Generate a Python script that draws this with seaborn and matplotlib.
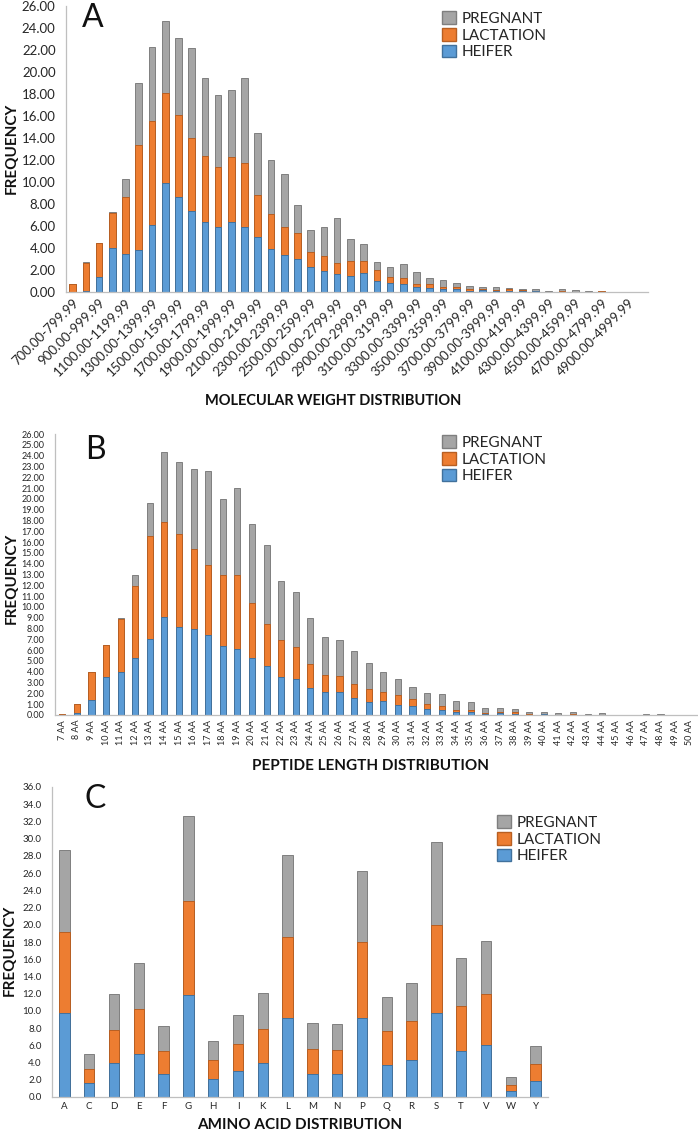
import numpy as np
import pandas as pd
import matplotlib
matplotlib.use("Agg")
import matplotlib.pyplot as plt
import seaborn as sns
from matplotlib.patches import Patch
from matplotlib.ticker import FormatStrFormatter, FixedLocator

# ---- data ----
# A: molecular weight bins
mw_bins = [f"{s}.00-{s + 99}.99" for s in range(700, 5100, 100)]
mw_heifer = [0.0, 0.1, 1.4, 4.0, 3.45, 3.8, 6.1, 9.95, 8.65, 7.35, 6.35, 5.95, 6.4, 5.9, 5.0,
             3.9, 3.4, 3.0, 2.3, 1.95, 1.6, 1.5, 1.75, 1.0, 0.85, 0.7, 0.42, 0.4, 0.3, 0.27,
             0.12, 0.15, 0.1, 0.08, 0.05, 0.05, 0.0, 0.03, 0.0, 0.0, 0.0, 0.0, 0.0, 0.0]
mw_lactation = [0.7, 2.57, 3.1, 3.2, 5.15, 9.55, 9.45, 8.15, 7.45, 6.65, 6.0, 5.4, 5.9, 5.8, 3.85,
                3.15, 2.5, 2.35, 1.35, 1.3, 1.0, 1.3, 1.1, 1.0, 0.55, 0.57, 0.34, 0.3, 0.12, 0.15,
                0.15, 0.15, 0.1, 0.2, 0.1, 0.05, 0.03, 0.03, 0.03, 0.0, 0.06, 0.04, 0.0, 0.0]
mw_pregnant = [0.0, 0.05, 0.0, 0.05, 1.65, 5.65, 6.7, 6.5, 7.0, 8.15, 7.15, 6.6, 6.1, 7.8, 5.65,
               4.95, 4.8, 2.6, 1.95, 2.7, 4.1, 2.05, 1.5, 0.75, 0.9, 1.25, 1.06, 0.6, 0.67, 0.43,
               0.3, 0.12, 0.22, 0.08, 0.1, 0.14, 0.06, 0.21, 0.12, 0.09, 0.0, 0.0, 0.0, 0.0]

# B: peptide length
pl_bins = [f"{n} AA" for n in range(7, 51)]
pl_heifer = [0.0, 0.2, 1.4, 3.5, 3.95, 5.25, 7.05, 9.1, 8.1, 8.0, 7.4, 6.4, 6.1, 5.25, 4.55,
             3.55, 3.3, 2.5, 2.1, 2.1, 1.55, 1.2, 1.3, 0.95, 0.8, 0.55, 0.45, 0.28, 0.3, 0.12,
             0.15, 0.12, 0.03, 0.05, 0.0, 0.03, 0.0, 0.0, 0.0, 0.0, 0.0, 0.0, 0.0, 0.0]
pl_lactation = [0.1, 0.82, 2.6, 3.0, 4.95, 6.65, 9.55, 8.75, 8.65, 7.35, 6.5, 6.6, 6.85, 5.1, 3.85,
                3.4, 2.95, 2.2, 1.6, 1.55, 1.35, 1.2, 0.8, 0.9, 0.7, 0.45, 0.4, 0.21, 0.2, 0.1,
                0.13, 0.13, 0.05, 0.03, 0.02, 0.05, 0.0, 0.02, 0.0, 0.03, 0.02, 0.0, 0.0, 0.0]
pl_pregnant = [0.0, 0.03, 0.0, 0.0, 0.1, 1.05, 3.05, 6.5, 6.7, 7.45, 8.7, 7.0, 8.05, 7.35, 7.3,
               5.45, 5.1, 4.3, 3.5, 3.3, 3.0, 2.45, 1.9, 1.5, 1.1, 1.0, 1.05, 0.78, 0.7, 0.4,
               0.37, 0.31, 0.23, 0.2, 0.2, 0.2, 0.12, 0.17, 0.0, 0.0, 0.07, 0.06, 0.0, 0.03]

# C: amino acids
aa_bins = ["A", "C", "D", "E", "F", "G", "H", "I", "K", "L", "M", "N", "P", "Q", "R", "S", "T", "V", "W", "Y"]
aa_heifer = [9.75, 1.6, 3.95, 5.0, 2.7, 11.8, 2.1, 3.0, 3.95, 9.2, 2.65, 2.7, 9.2, 3.7, 4.3, 9.75, 5.3, 6.0, 0.65, 1.85]
aa_lactation = [9.4, 1.6, 3.85, 5.2, 2.7, 10.95, 2.15, 3.15, 4.0, 9.35, 2.95, 2.8, 8.8, 3.95, 4.5, 10.2, 5.3, 5.95, 0.8, 1.95]
aa_pregnant = [9.55, 1.8, 4.2, 5.35, 2.85, 9.9, 2.3, 3.35, 4.15, 9.55, 3.05, 3.0, 8.25, 3.95, 4.45, 9.7, 5.55, 6.15, 0.85, 2.15]

GRAY, GRAY_E = "#A5A5A5", "#7F7F7F"
ORANGE, ORANGE_E = "#ED7D31", "#B85F22"
BLUE, BLUE_E = "#5B9BD5", "#41719C"
AXC = "#BFBFBF"
TXT = "#262626"

sns.set_style("white")
plt.rcParams["font.family"] = ["Lato", "DejaVu Sans"]

fig = plt.figure(figsize=(6.98, 11.36), dpi=100)
W, H = 698, 1136


def px_axes(left, top, right, bottom):
    return fig.add_axes([left / W, 1 - bottom / H, (right - left) / W, (bottom - top) / H])


def stacked(ax, cats, h, l, p, width):
    df = pd.DataFrame({"cat": cats, "h": h, "l": l, "p": p})
    df["hl"] = df["h"] + df["l"]
    df["all"] = df["hl"] + df["p"]
    for col, fc, ec in [("all", GRAY, GRAY_E), ("hl", ORANGE, ORANGE_E), ("h", BLUE, BLUE_E)]:
        sns.barplot(data=df, x="cat", y=col, order=cats, color=fc, edgecolor=ec,
                    linewidth=0.7, width=width, saturation=1, errorbar=None, ax=ax)
    ax.set_xlabel("")
    ax.set_ylabel("")
    ax.set_xlim(-0.5, len(cats) - 0.5)
    for s in ["top", "right"]:
        ax.spines[s].set_visible(False)
    for s in ["left", "bottom"]:
        ax.spines[s].set_color(AXC)
        ax.spines[s].set_linewidth(0.9)
    ax.xaxis.set_minor_locator(FixedLocator(np.arange(-0.5, len(cats), 1.0)))
    ax.tick_params(axis="x", which="major", length=0, colors=TXT)
    ax.tick_params(axis="x", which="minor", length=4, color=AXC, width=0.8, direction="out")
    ax.tick_params(axis="y", length=4, width=0.8, direction="out", colors=AXC, labelcolor=TXT)


def legend(x, y, size):
    handles = [Patch(facecolor=GRAY, edgecolor=GRAY_E, label="PREGNANT"),
               Patch(facecolor=ORANGE, edgecolor=ORANGE_E, label="LACTATION"),
               Patch(facecolor=BLUE, edgecolor=BLUE_E, label="HEIFER")]
    fig.legend(handles=handles, loc="upper left", bbox_to_anchor=(x / W, 1 - y / H),
               frameon=False, fontsize=size, handlelength=0.9, handleheight=0.9,
               handletextpad=0.4, labelspacing=0.15, borderpad=0, borderaxespad=0)


def panel_letter(letter, x, baseline):
    fig.text(x / W, 1 - baseline / H, letter, fontsize=23, ha="left", va="baseline", color="#111111")


# ---- panel A ----
axA = px_axes(66, 6, 648, 292)
stacked(axA, mw_bins, mw_heifer, mw_lactation, mw_pregnant, 0.5)
axA.set_ylim(0, 26)
axA.set_yticks(np.arange(0, 27, 2))
axA.yaxis.set_major_formatter(FormatStrFormatter("%.2f"))
axA.set_xticks(range(len(mw_bins)))
axA.set_xticklabels([b if i % 2 == 0 else "" for i, b in enumerate(mw_bins)],
                    rotation=45, ha="right", rotation_mode="anchor", fontsize=9.5)
axA.tick_params(axis="y", labelsize=9.5)
panel_letter("A", 82, 27)
fig.text(12 / W, 1 - 148 / H, "FREQUENCY", rotation=90, ha="center", va="center",
         fontsize=11, fontweight="bold", color="#111111")
fig.text(333 / W, 1 - 401 / H, "MOLECULAR WEIGHT DISTRIBUTION", ha="center", va="center",
         fontsize=10.5, fontweight="bold", color="#111111")
legend(442, 11, 11)

# ---- panel B ----
axB = px_axes(55, 434, 697, 715)
stacked(axB, pl_bins, pl_heifer, pl_lactation, pl_pregnant, 0.42)
axB.set_ylim(0, 26)
axB.set_yticks(np.arange(0, 27, 1))
axB.yaxis.set_major_formatter(FormatStrFormatter("%.2f"))
axB.set_xticks(range(len(pl_bins)))
axB.set_xticklabels(pl_bins, rotation=90, fontsize=6.5)
axB.tick_params(axis="y", labelsize=6.5)
panel_letter("B", 85, 459)
fig.text(12 / W, 1 - 578 / H, "FREQUENCY", rotation=90, ha="center", va="center",
         fontsize=11, fontweight="bold", color="#111111")
fig.text(370 / W, 1 - 766 / H, "PEPTIDE LENGTH DISTRIBUTION", ha="center", va="center",
         fontsize=11, fontweight="bold", color="#111111")
legend(442, 435, 11)

# ---- panel C ----
axC = px_axes(52, 787, 548, 1097)
stacked(axC, aa_bins, aa_heifer, aa_lactation, aa_pregnant, 0.42)
axC.set_ylim(0, 36)
axC.set_yticks(np.arange(0, 37, 2))
axC.yaxis.set_major_formatter(FormatStrFormatter("%.1f"))
axC.set_xticks(range(len(aa_bins)))
axC.set_xticklabels(aa_bins, fontsize=7)
axC.tick_params(axis="y", labelsize=7)
panel_letter("C", 84, 808)
fig.text(10 / W, 1 - 950 / H, "FREQUENCY", rotation=90, ha="center", va="center",
         fontsize=11, fontweight="bold", color="#111111")
fig.text(300 / W, 1 - 1125 / H, "AMINO ACID DISTRIBUTION", ha="center", va="center",
         fontsize=11, fontweight="bold", color="#111111")
legend(497, 815, 11)

fig.savefig("out.png", dpi=100)
